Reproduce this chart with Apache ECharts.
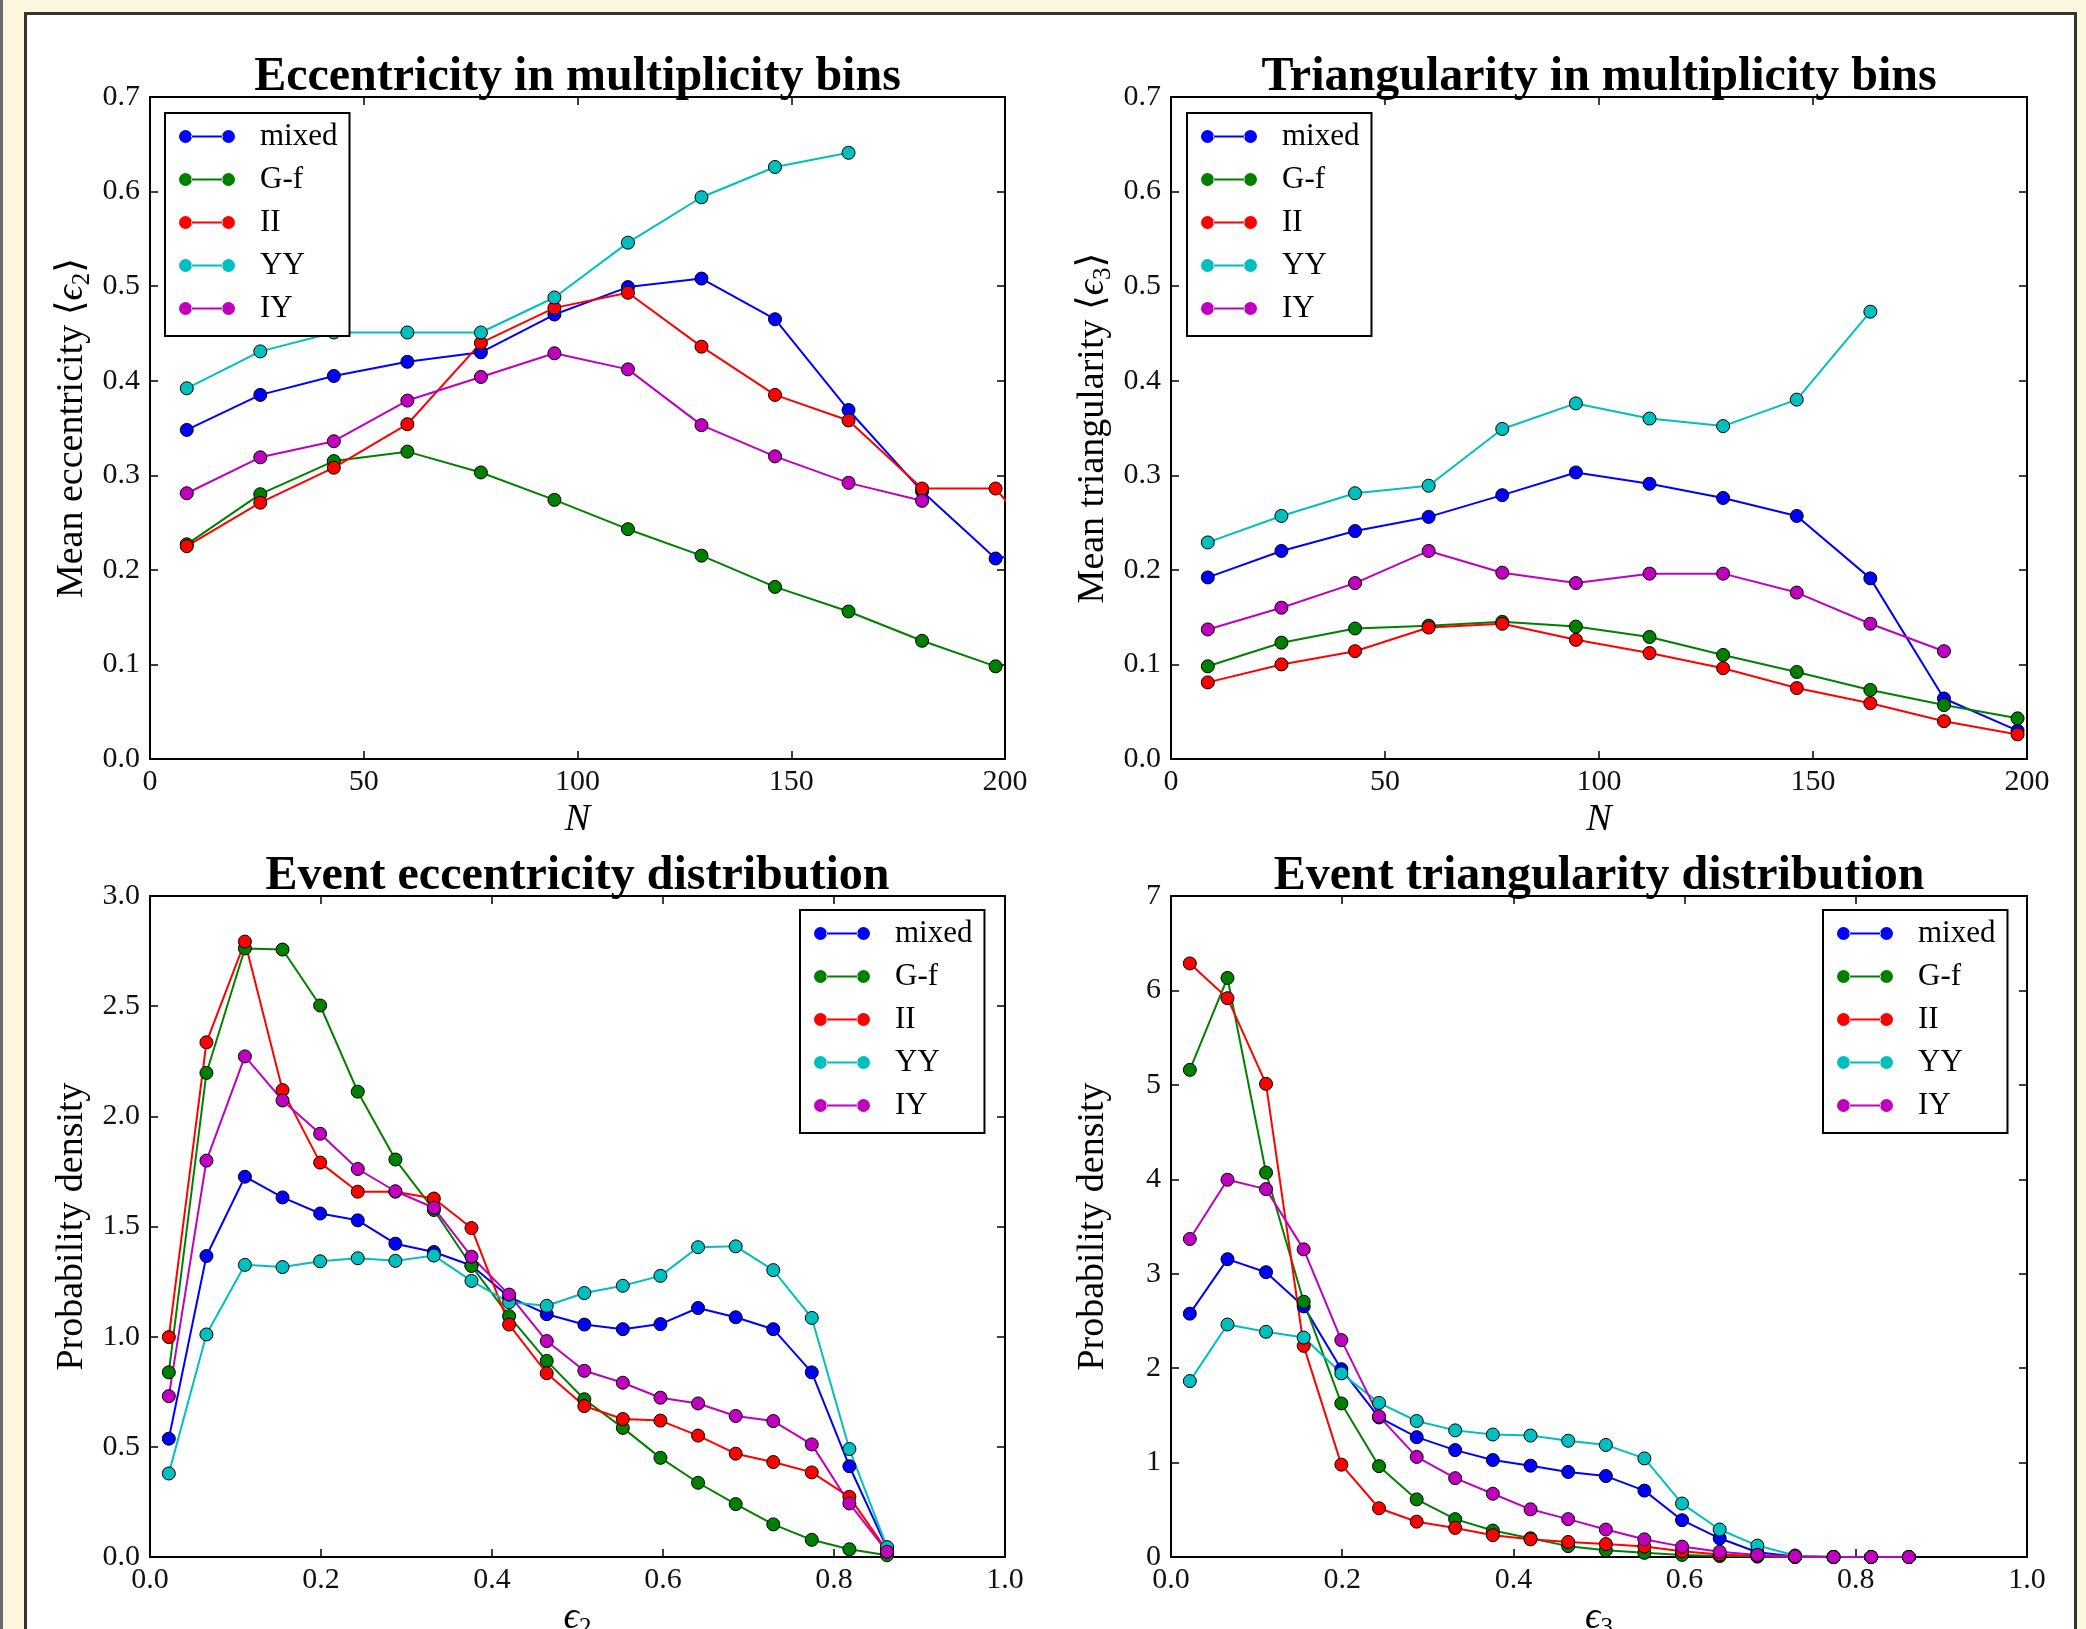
<!DOCTYPE html>
<html>
<head>
<meta charset="utf-8">
<title>Eccentricity and triangularity</title>
<script src="https://cdn.jsdelivr.net/npm/echarts@6/dist/echarts.min.js"></script>
<style>
  html, body { margin: 0; padding: 0; }
  body { width: 2086px; height: 1629px; background: #fbf6dd; position: relative; overflow: hidden; }
  .edge { position: absolute; left: 0; top: 0; width: 3px; height: 1629px; background: #6b6b6b; }
  .panel { position: absolute; left: 24px; top: 12px; width: 2047px; height: 1700px; background: #fff; border: 3px solid #333; }
  #chart { position: absolute; left: 0; top: 0; width: 2086px; height: 1629px; }
</style>
</head>
<body>
<div class="edge"></div>
<div class="panel"></div>
<div id="chart"></div>
<script>
const FONT = "'Liberation Serif', 'DejaVu Serif', serif";

const seriesNames = ["mixed", "G-f", "II", "YY", "IY"];
const seriesColors = ["#0000ff", "#008000", "#ff0000", "#00bfbf", "#bf00bf"];

// bin centres
const nCenters = [8.6, 25.8, 43.0, 60.2, 77.4, 94.6, 111.8, 129.0, 146.2, 163.4, 180.6, 197.8, 215.0];
const epsCenters = [0.022, 0.066, 0.111, 0.155, 0.199, 0.243, 0.287, 0.332, 0.376, 0.420,
                    0.464, 0.508, 0.553, 0.597, 0.641, 0.685, 0.729, 0.774, 0.818, 0.862];

// mean eccentricity vs N
const eccN_mixed = [0.348, 0.385, 0.405, 0.420, 0.430, 0.470, 0.499, 0.508, 0.465, 0.369, 0.283, 0.212, 0.225];
const eccN_Gf = [0.227, 0.280, 0.315, 0.325, 0.303, 0.274, 0.243, 0.215, 0.182, 0.156, 0.125, 0.098];
const eccN_II = [0.225, 0.271, 0.308, 0.354, 0.440, 0.477, 0.493, 0.436, 0.385, 0.358, 0.286, 0.286, 0.194];
const eccN_YY = [0.392, 0.431, 0.451, 0.451, 0.451, 0.488, 0.546, 0.594, 0.626, 0.641];
const eccN_IY = [0.281, 0.319, 0.336, 0.379, 0.404, 0.429, 0.412, 0.353, 0.320, 0.292, 0.273];

// mean triangularity vs N
const triN_mixed = [0.192, 0.220, 0.241, 0.256, 0.279, 0.303, 0.291, 0.276, 0.257, 0.191, 0.064, 0.030];
const triN_Gf = [0.098, 0.123, 0.138, 0.141, 0.145, 0.140, 0.129, 0.110, 0.092, 0.073, 0.057, 0.043];
const triN_II = [0.081, 0.100, 0.114, 0.139, 0.143, 0.126, 0.112, 0.096, 0.075, 0.059, 0.040, 0.026];
const triN_YY = [0.229, 0.257, 0.281, 0.289, 0.349, 0.376, 0.360, 0.352, 0.380, 0.473];
const triN_IY = [0.137, 0.160, 0.186, 0.220, 0.197, 0.186, 0.196, 0.196, 0.176, 0.143, 0.114];

// eccentricity distribution
const eccD_mixed = [0.537, 1.366, 1.726, 1.632, 1.559, 1.528, 1.422, 1.384, 1.323, 1.180, 1.102, 1.055, 1.034, 1.057, 1.130, 1.088, 1.034, 0.838, 0.412, 0.040];
const eccD_Gf = [0.838, 2.197, 2.762, 2.757, 2.503, 2.112, 1.804, 1.575, 1.321, 1.093, 0.890, 0.716, 0.586, 0.450, 0.337, 0.240, 0.148, 0.078, 0.035, 0.008];
const eccD_II = [0.998, 2.336, 2.793, 2.119, 1.790, 1.658, 1.658, 1.627, 1.493, 1.055, 0.834, 0.685, 0.626, 0.619, 0.551, 0.469, 0.431, 0.384, 0.273, 0.028];
const eccD_YY = [0.379, 1.010, 1.326, 1.316, 1.342, 1.356, 1.344, 1.368, 1.253, 1.156, 1.140, 1.198, 1.231, 1.276, 1.406, 1.410, 1.302, 1.085, 0.490, 0.045];
const eccD_IY = [0.730, 1.799, 2.272, 2.072, 1.921, 1.761, 1.660, 1.585, 1.363, 1.191, 0.980, 0.845, 0.791, 0.723, 0.697, 0.640, 0.617, 0.511, 0.243, 0.024];

// triangularity distribution
const triD_mixed = [2.577, 3.154, 3.016, 2.654, 1.989, 1.478, 1.269, 1.132, 1.027, 0.967, 0.901, 0.857, 0.703, 0.390, 0.198, 0.050, 0.005, 0, 0, 0];
const triD_Gf = [5.159, 6.132, 4.071, 2.703, 1.626, 0.962, 0.610, 0.401, 0.280, 0.198, 0.115, 0.071, 0.044, 0.022, 0.010, 0.004, 0, 0, 0, 0];
const triD_II = [6.286, 5.918, 5.011, 2.236, 0.978, 0.516, 0.374, 0.308, 0.231, 0.187, 0.159, 0.137, 0.110, 0.060, 0.027, 0.011, 0, 0, 0, 0];
const triD_YY = [1.863, 2.462, 2.385, 2.324, 1.945, 1.632, 1.440, 1.341, 1.297, 1.286, 1.231, 1.187, 1.044, 0.566, 0.291, 0.121, 0.016, 0, 0, 0];
const triD_IY = [3.368, 3.995, 3.896, 3.258, 2.297, 1.489, 1.060, 0.835, 0.670, 0.505, 0.401, 0.291, 0.187, 0.110, 0.055, 0.022, 0.005, 0, 0, 0];

const titles = [
  "Eccentricity in multiplicity bins",
  "Triangularity in multiplicity bins",
  "Event eccentricity distribution",
  "Event triangularity distribution",
];

const grids = [
  { left: 150, top: 97, width: 855, height: 662, outerBoundsMode: "none", containLabel: false },
  { left: 1171, top: 97, width: 856, height: 662, outerBoundsMode: "none", containLabel: false },
  { left: 150, top: 896, width: 855, height: 661, outerBoundsMode: "none", containLabel: false },
  { left: 1171, top: 896, width: 856, height: 661, outerBoundsMode: "none", containLabel: false },
];

const legendPos = [[165, 113], [1187, 113], [800, 910], [1823, 910]];

const myChart = echarts.init(document.getElementById("chart"));

const legendIcon =
  "path://M0,6.5A6.5,6.5,0,1,0,13,6.5A6.5,6.5,0,1,0,0,6.5Z" +
  "M12,5.6L44,5.6L44,7.4L12,7.4Z" +
  "M43,6.5A6.5,6.5,0,1,0,56,6.5A6.5,6.5,0,1,0,43,6.5Z";

const fmt1 = (v) => v.toFixed(1);
const fmt0 = (v) => Math.round(v).toString();

const richLabel = {
  t: { fontFamily: FONT, fontSize: 38, color: "#000", lineHeight: 46 },
  e: { fontFamily: FONT, fontSize: 38, fontStyle: "italic", color: "#000", lineHeight: 46 },
  s: { fontFamily: FONT, fontSize: 25, color: "#000", lineHeight: 46, verticalAlign: "bottom" },
};

function makeAxes(gi, min, max, interval, fmt, name, pos, gap) {
  const base = {
    type: "value",
    gridIndex: gi,
    min: min,
    max: max,
    interval: interval,
    splitLine: { show: false },
    axisLine: { show: true, onZero: false, lineStyle: { color: "#000", width: 2 } },
    axisTick: { show: true, inside: true, length: 8, lineStyle: { color: "#000", width: 1.5 } },
  };
  const main = Object.assign({}, base, {
    position: pos[0],
    axisLabel: { fontFamily: FONT, fontSize: 30, color: "#111", margin: pos[0] === "bottom" ? 8 : 10, formatter: fmt },
    name: name,
    nameLocation: "middle",
    nameGap: gap,
    nameTextStyle: { rich: richLabel },
  });
  const mirror = Object.assign({}, base, { position: pos[1], axisLabel: { show: false } });
  return [main, mirror];
}

const xAxis = [].concat(
  makeAxes(0, 0, 200, 50, fmt0, "{e|N}", ["bottom", "top"], 38),
  makeAxes(1, 0, 200, 50, fmt0, "{e|N}", ["bottom", "top"], 38),
  makeAxes(2, 0, 1, 0.2, fmt1, "{e|ϵ}{s|2}", ["bottom", "top"], 38),
  makeAxes(3, 0, 1, 0.2, fmt1, "{e|ϵ}{s|3}", ["bottom", "top"], 38)
);

const yAxis = [].concat(
  makeAxes(0, 0, 0.7, 0.1, fmt1, "{t|Mean eccentricity ⟨}{e|ϵ}{s|2}{t|⟩}", ["left", "right"], 55),
  makeAxes(1, 0, 0.7, 0.1, fmt1, "{t|Mean triangularity ⟨}{e|ϵ}{s|3}{t|⟩}", ["left", "right"], 55),
  makeAxes(2, 0, 3, 0.5, fmt1, "{t|Probability density}", ["left", "right"], 55),
  makeAxes(3, 0, 7, 1, fmt0, "{t|Probability density}", ["left", "right"], 55)
);

function makeSeries(gi, xs, lists) {
  return lists.map((vals, i) => ({
    name: seriesNames[i],
    type: "line",
    xAxisIndex: gi * 2,
    yAxisIndex: gi * 2,
    data: vals.map((v, k) => [xs[k], v]),
    symbol: "circle",
    symbolSize: 13,
    clip: true,
    lineStyle: { color: seriesColors[i], width: 2 },
    itemStyle: { color: seriesColors[i], borderColor: "#000", borderWidth: 1 },
    emphasis: { disabled: true },
  }));
}

const series = [].concat(
  makeSeries(0, nCenters, [eccN_mixed, eccN_Gf, eccN_II, eccN_YY, eccN_IY]),
  makeSeries(1, nCenters, [triN_mixed, triN_Gf, triN_II, triN_YY, triN_IY]),
  makeSeries(2, epsCenters, [eccD_mixed, eccD_Gf, eccD_II, eccD_YY, eccD_IY]),
  makeSeries(3, epsCenters, [triD_mixed, triD_Gf, triD_II, triD_YY, triD_IY])
);

myChart.setOption({
  animation: false,
  backgroundColor: "transparent",
  title: titles.map((t, i) => ({
    text: t,
    left: grids[i].left + grids[i].width / 2,
    top: i < 2 ? 54 : 853,
    textAlign: "center",
    padding: 0,
    textStyle: { fontFamily: FONT, fontSize: 48, fontWeight: "bold", color: "#000" },
  })),
  grid: grids,
  xAxis: xAxis,
  yAxis: yAxis,
  legend: legendPos.map((p) => ({
    orient: "vertical",
    left: p[0],
    top: p[1],
    data: seriesNames,
    icon: legendIcon,
    itemWidth: 56,
    itemHeight: 13,
    itemGap: 12,
    padding: [8, 12, 12, 14],
    backgroundColor: "#fff",
    borderColor: "#000",
    borderWidth: 2,
    borderRadius: 0,
    selectedMode: false,
    itemStyle: { borderWidth: 0 },
    textStyle: { fontFamily: FONT, fontSize: 31, lineHeight: 30, color: "#000", padding: [0, 0, 0, 20] },
  })),
  series: series,
});
</script>
</body>
</html>
